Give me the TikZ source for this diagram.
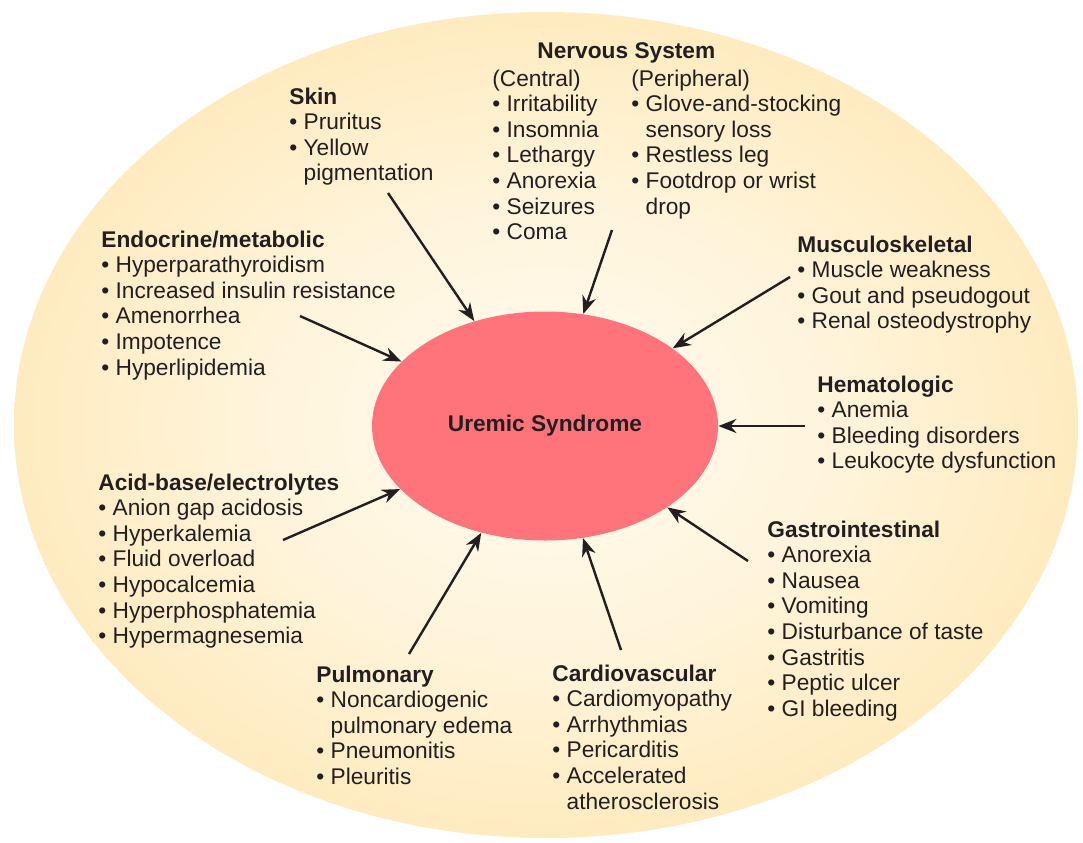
\documentclass[tikz,border=0pt]{standalone}
\usepackage{fontspec}
\setmainfont{Liberation Sans}
\usepackage{tikz}
\usepackage{xcolor}
\usetikzlibrary{shapes.geometric, arrows.meta, positioning}

\definecolor{ink}{RGB}{35,31,32}
\definecolor{glowin}{RGB}{255,252,242}
\definecolor{glowa}{RGB}{255,244,218}
\definecolor{glowb}{RGB}{254,229,174}
\definecolor{glowout}{RGB}{252,216,140}
\definecolor{uremred}{RGB}{255,116,122}
\pgfdeclareradialshading{glow}{\pgfpoint{0bp}{0bp}}{color(0bp)=(glowin); color(14bp)=(glowa); color(32bp)=(glowb); color(50bp)=(glowout); color(80bp)=(glowout)}

\begin{document}
\begin{tikzpicture}[x=0.5pt, y=-0.5pt, >={Stealth[length=9pt, width=7pt]},
    group/.style={font=\fontsize{11.35}{12.8}\selectfont, text=ink, inner sep=0pt, anchor=base west},
    arrow/.style={->, draw=ink, line width=1.2pt}]
    \useasboundingbox (0,0) rectangle (1083,842);
    \clip (0,0) rectangle (1083,842);
    \fill[white] (0,0) rectangle (1083,842);
    \shade[shading=glow] (546,425) ellipse [x radius=532, y radius=413];

    % Nodes
    \node[ellipse, fill=uremred, inner sep=0pt, minimum width=173pt, minimum height=114.5pt,
          font=\fontsize{11.35}{12.8}\selectfont\bfseries, text=ink] (Uremic) at (545,426) {Uremic Syndrome};

    \node[group] (Skin) at (289,104) {\begin{tabular}[t]{@{}l@{}}
        \textbf{Skin}\\
        \textbullet\ Pruritus\\
        \textbullet\ Yellow\\
        \hphantom{\textbullet\ }pigmentation
    \end{tabular}};

    \node[group] (NervHead) at (537,58) {\textbf{Nervous System}};
    \node[group] (NervC) at (492,86) {\begin{tabular}[t]{@{}l@{}}
        (Central)\\
        \textbullet\ Irritability\\
        \textbullet\ Insomnia\\
        \textbullet\ Lethargy\\
        \textbullet\ Anorexia\\
        \textbullet\ Seizures\\
        \textbullet\ Coma
    \end{tabular}};
    \node[group] (NervP) at (631,86) {\begin{tabular}[t]{@{}l@{}}
        (Peripheral)\\
        \textbullet\ Glove-and-stocking\\
        \hphantom{\textbullet\ }sensory loss\\
        \textbullet\ Restless leg\\
        \textbullet\ Footdrop or wrist\\
        \hphantom{\textbullet\ }drop
    \end{tabular}};

    \node[group] (Endo) at (101,247) {\begin{tabular}[t]{@{}l@{}}
        \textbf{Endocrine/metabolic}\\
        \textbullet\ Hyperparathyroidism\\
        \textbullet\ Increased insulin resistance\\
        \textbullet\ Amenorrhea\\
        \textbullet\ Impotence\\
        \textbullet\ Hyperlipidemia
    \end{tabular}};

    \node[group] (Musc) at (797,252) {\begin{tabular}[t]{@{}l@{}}
        \textbf{Musculoskeletal}\\
        \textbullet\ Muscle weakness\\
        \textbullet\ Gout and pseudogout\\
        \textbullet\ Renal osteodystrophy
    \end{tabular}};

    \node[group] (Hema) at (817,392) {\begin{tabular}[t]{@{}l@{}}
        \textbf{Hematologic}\\
        \textbullet\ Anemia\\
        \textbullet\ Bleeding disorders\\
        \textbullet\ Leukocyte dysfunction
    \end{tabular}};

    \node[group] (Acid) at (98,490) {\begin{tabular}[t]{@{}l@{}}
        \textbf{Acid-base/electrolytes}\\
        \textbullet\ Anion gap acidosis\\
        \textbullet\ Hyperkalemia\\
        \textbullet\ Fluid overload\\
        \textbullet\ Hypocalcemia\\
        \textbullet\ Hyperphosphatemia\\
        \textbullet\ Hypermagnesemia
    \end{tabular}};

    \node[group] (Gast) at (767,537) {\begin{tabular}[t]{@{}l@{}}
        \textbf{Gastrointestinal}\\
        \textbullet\ Anorexia\\
        \textbullet\ Nausea\\
        \textbullet\ Vomiting\\
        \textbullet\ Disturbance of taste\\
        \textbullet\ Gastritis\\
        \textbullet\ Peptic ulcer\\
        \textbullet\ GI bleeding
    \end{tabular}};

    \node[group] (Pulm) at (316,682) {\begin{tabular}[t]{@{}l@{}}
        \textbf{Pulmonary}\\
        \textbullet\ Noncardiogenic\\
        \hphantom{\textbullet\ }pulmonary edema\\
        \textbullet\ Pneumonitis\\
        \textbullet\ Pleuritis
    \end{tabular}};

    \node[group] (Card) at (552,681) {\begin{tabular}[t]{@{}l@{}}
        \textbf{Cardiovascular}\\
        \textbullet\ Cardiomyopathy\\
        \textbullet\ Arrhythmias\\
        \textbullet\ Pericarditis\\
        \textbullet\ Accelerated\\
        \hphantom{\textbullet\ }atherosclerosis
    \end{tabular}};

    % Arrow tails
    \coordinate (skinend) at (388,193);
    \coordinate (nervend) at (612,230);
    \coordinate (muscend) at (790,277);
    \coordinate (hemaend) at (805,426);
    \coordinate (gastend) at (748,561);
    \coordinate (cardend) at (621,650);
    \coordinate (pulmend) at (409,654);
    \coordinate (acidend) at (283,540);
    \coordinate (endoend) at (300,316);

    % Paths
    \draw[arrow] (skinend) -- (Uremic);
    \draw[arrow] (nervend) -- (Uremic);
    \draw[arrow] (muscend) -- (Uremic);
    \draw[arrow] (hemaend) -- (Uremic);
    \draw[arrow] (gastend) -- (Uremic);
    \draw[arrow] (cardend) -- (Uremic);
    \draw[arrow] (pulmend) -- (Uremic);
    \draw[arrow] (acidend) -- (Uremic);
    \draw[arrow] (endoend) -- (Uremic);
\end{tikzpicture}
\end{document}
